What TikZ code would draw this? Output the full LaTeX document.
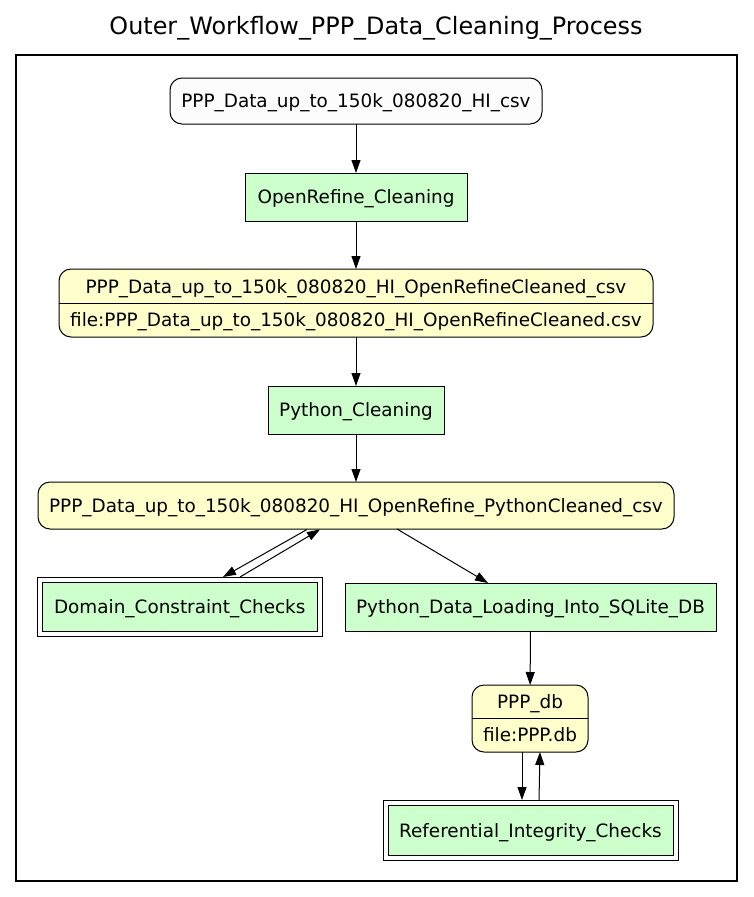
\documentclass[tikz,border=0pt]{standalone}
\usepackage{fontspec}
\setmainfont{DejaVu Sans}
\usetikzlibrary{arrows.meta,calc}
\definecolor{procgreen}{HTML}{CCFFCC}
\definecolor{datayellow}{HTML}{FFFFCC}
\definecolor{srcwhite}{HTML}{FCFCFC}
\begin{document}
\begin{tikzpicture}[x=1pt,y=-1pt,
  every node/.style={font=\fontsize{18.4}{22}\selectfont, inner sep=0pt, outer sep=0pt, text depth=0pt},
  proc/.style={draw=black, line width=1pt, fill=procgreen},
  subwf/.style={draw=black, line width=1pt, double=white, double distance=4pt, fill=procgreen},
  datanode/.style={draw=black, line width=1pt, fill=datayellow, rounded corners=12pt},
  srcnode/.style={draw=black, line width=1pt, fill=srcwhite, rounded corners=12pt},
  lbl/.style={},
  arr/.style={-{Triangle[length=13pt,width=9pt]}, line width=1pt, black}
]
\useasboundingbox (0,0) rectangle (753,897);
\fill[white] (0,0) rectangle (753,897);

% title and cluster
\node[font=\fontsize{23.9}{28}\selectfont] (title) at (376,25) {Outer\_Workflow\_PPP\_Data\_Cleaning\_Process};
\draw[line width=2pt] (15.5,55) rectangle (737,881);

% nodes
\node[srcnode, minimum width=372pt, minimum height=46pt] (n1) at (356,101) {PPP\_Data\_up\_to\_150k\_080820\_HI\_csv};
\node[proc, minimum width=222pt, minimum height=48pt] (n2) at (356,197) {OpenRefine\_Cleaning};

\node[datanode, minimum width=594pt, minimum height=68pt] (n3) at (356,303) {};
\draw[line width=1pt] (n3.west) -- (n3.east);
\node[lbl] (n3a) at (356,286.5) {PPP\_Data\_up\_to\_150k\_080820\_HI\_OpenRefineCleaned\_csv};
\node[lbl] (n3b) at (356,320) {file:PPP\_Data\_up\_to\_150k\_080820\_HI\_OpenRefineCleaned.csv};

\node[proc, minimum width=176pt, minimum height=48pt] (n4) at (356,410) {Python\_Cleaning};
\node[datanode, minimum width=636pt, minimum height=47pt] (n5) at (356,505.5) {PPP\_Data\_up\_to\_150k\_080820\_HI\_OpenRefine\_PythonCleaned\_csv};

\node[subwf, minimum width=279.5pt, minimum height=54pt] (n6) at (179.75,606.5) {Domain\_Constraint\_Checks};
\node[proc, minimum width=371pt, minimum height=48pt] (n7) at (530.5,607) {Python\_Data\_Loading\_Into\_SQLite\_DB};

\node[datanode, minimum width=116pt, minimum height=67pt] (n8) at (530,718.5) {};
\draw[line width=1pt] (n8.west) -- (n8.east);
\node[lbl] (n8a) at (530,702) {PPP\_db};
\node[lbl] (n8b) at (530,735) {file:PPP.db};

\node[subwf, minimum width=290pt, minimum height=55pt] (n9) at (530.5,830) {Referential\_Integrity\_Checks};

% edges
\draw[arr] (n1) -- (n2);
\draw[arr] (n2) -- (n3);
\draw[arr] (n3) -- (n4);
\draw[arr] (n4) -- (n5);
\draw[arr] ($(n5.south)+(-49,0.5)$) -- ($(n6.north)+(43.25,-2.5)$);
\draw[arr] ($(n6.north)+(60.25,-2.5)$) -- ($(n5.south)+(-36,0.5)$);
\draw[arr] ($(n5.south)+(41,0)$) -- ($(n7.north)+(-42.5,0)$);
\draw[arr] (n7) -- (n8);
\draw[arr] ($(n8.south)+(-8,0)$) -- ($(n9.north)+(-8.5,-2.5)$);
\draw[arr] ($(n9.north)+(8.5,-2.5)$) -- ($(n8.south)+(10,0)$);
\end{tikzpicture}
\end{document}
